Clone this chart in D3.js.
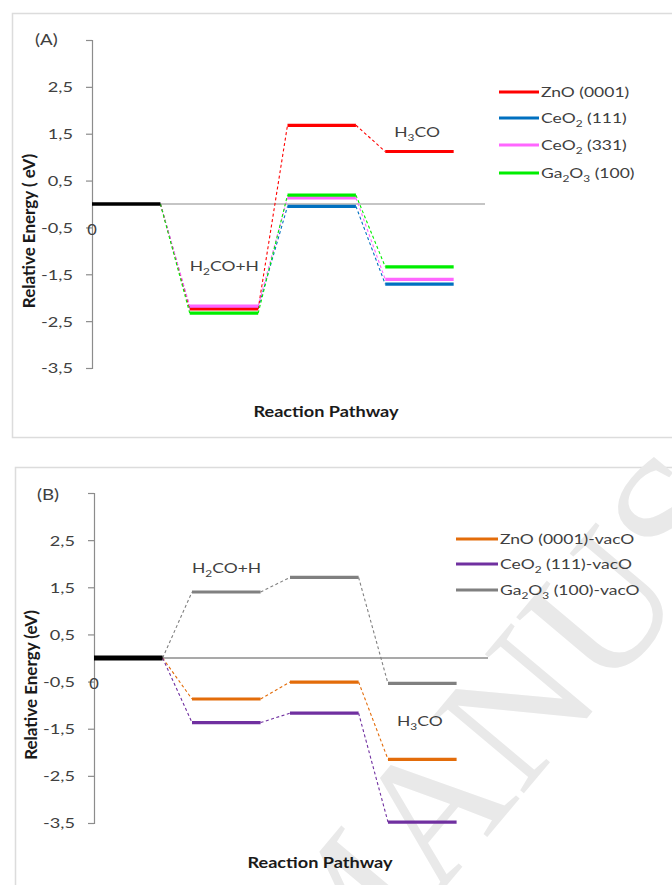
<!DOCTYPE html>
<html><head><meta charset="utf-8">
<script src="https://cdn.jsdelivr.net/npm/d3@7"></script>
<style>body{margin:0;background:#fff}svg{display:block}</style>
</head><body><svg id="c" width="672" height="885"></svg>
<script>
// ---------- data ----------
const steps = [0, 1, 2, 3];
const yTickValues = [3.5, 2.5, 1.5, 0.5, -0.5, -1.5, -2.5, -3.5];
const yTickLabels = ["", "2,5", "1,5", "0,5", "-0,5", "-1,5", "-2,5", "-3,5"];

// Panel A
const namesA = ["ZnO (0001)", "CeO_2 (111)", "CeO_2 (331)", "Ga_2O_3 (100)"];
const znoA    = [0, -2.24, 1.68, 1.12];
const ceo111A = [0, -2.22, -0.05, -1.71];
const ceo331A = [0, -2.18, 0.13, -1.61];
const ga2o3A  = [0, -2.33, 0.19, -1.34];

// Panel B
const namesB = ["ZnO (0001)-vacO", "CeO_2 (111)-vacO", "Ga_2O_3 (100)-vacO"];
const znoB  = [0, -0.87, -0.51, -2.15];
const ceoB  = [0, -1.37, -1.17, -3.48];
const ga2o3B = [0, 1.40, 1.71, -0.54];

const stepLabelsA = ["H_2CO+H", "H_3CO"];
const stepLabelsB = ["H_2CO+H", "H_3CO"];

// ---------- drawing ----------
const svg = d3.select("#c");
const FONT = "Lato, 'Open Sans', sans-serif";
const SX = 1.25;
const TXT = "#404040";

function rich(sel, str, fs) {
  const parts = str.split(/(_\d)/).filter(p => p.length);
  let sub = false;
  parts.forEach(p => {
    if (p[0] === "_") {
      sel.append("tspan").attr("font-size", fs * 0.68).attr("dy", fs * 0.3).text(p.slice(1));
      sub = true;
    } else {
      const t = sel.append("tspan").text(p);
      if (sub) t.attr("dy", -fs * 0.3);
      sub = false;
    }
  });
}
function label(g, x, y, str, o = {}) {
  const fs = o.fs || 14;
  const t = g.append("text")
    .attr("transform", `translate(${x},${y}) scale(${o.sx || SX},1)`)
    .attr("font-family", FONT).attr("font-size", fs)
    .attr("font-weight", o.bold ? "bold" : "normal")
    .attr("fill", o.fill || TXT)
    .attr("text-anchor", o.anchor || "start");
  rich(t, str, fs);
  return t;
}

// frames
svg.append("rect").attr("x", 12.5).attr("y", 13.5).attr("width", 720).attr("height", 424)
  .attr("fill", "none").attr("stroke", "#dcdcdc").attr("stroke-width", 1.5);
svg.append("rect").attr("x", 15.5).attr("y", 467.5).attr("width", 720).attr("height", 460)
  .attr("fill", "none").attr("stroke", "#dcdcdc").attr("stroke-width", 1.5);

// watermark
svg.append("text").attr("transform", "translate(332,1022) rotate(-50)")
  .attr("font-family", "'Liberation Serif', serif").attr("font-size", 182)
  .attr("fill", "#e9e9e9").text("MANUSCRIPT");

function panel(cfg) {
  const g = svg.append("g");
  const y = d3.scaleLinear().domain([-3.5, 3.5]).range(cfg.yRange);
  const x = d3.scaleBand().domain(steps).range(cfg.xRange)
    .paddingInner(0.3).paddingOuter(0.15).align(0);
  const bw = x.bandwidth();
  const ax = cfg.xRange[0];

  // zero line
  g.append("line").attr("x1", ax).attr("x2", cfg.xRange[1] + 2)
    .attr("y1", y(0)).attr("y2", y(0))
    .attr("stroke", cfg.zeroColor).attr("stroke-width", 1.2);

  // y axis
  const axis = d3.axisLeft(y).tickValues(yTickValues).tickSize(6)
    .tickFormat((d, i) => yTickLabels[i]);
  const ag = g.append("g").attr("transform", `translate(${ax},0)`).call(axis);
  ag.select(".domain").attr("stroke", "#8c8c8c").attr("stroke-width", 1.2);
  ag.selectAll(".tick line").attr("stroke", "#8c8c8c").attr("stroke-width", 1.2);
  ag.selectAll(".tick text")
    .attr("x", -19 / 1.3).attr("dy", "0.35em")
    .attr("transform", `scale(1.3,1)`)
    .attr("font-family", FONT).attr("font-size", 14).attr("fill", TXT);

  // connectors then bars
  cfg.series.forEach(s => {
    for (let i = 0; i < steps.length - 1; i++) {
      g.append("line")
        .attr("x1", x(steps[i]) + bw).attr("y1", y(s.values[i]))
        .attr("x2", x(steps[i + 1])).attr("y2", y(s.values[i + 1]))
        .attr("stroke", s.color).attr("stroke-width", 1.1)
        .attr("stroke-dasharray", "3,2.5");
    }
  });
  cfg.series.forEach(s => {
    steps.slice(1).forEach(st => {
      g.append("line")
        .attr("x1", x(st)).attr("x2", x(st) + bw)
        .attr("y1", y(s.values[st])).attr("y2", y(s.values[st]))
        .attr("stroke", s.color).attr("stroke-width", 3.2);
    });
  });
  // initial state
  g.append("line").attr("x1", x(0)).attr("x2", x(0) + bw)
    .attr("y1", y(0)).attr("y2", y(0))
    .attr("stroke", "#000").attr("stroke-width", cfg.startWidth);

  // "0" category label
  label(g, ax, y(0) + 31, "0", { fs: 15, anchor: "middle", sx: 1.1 });

  // step labels
  label(g, x(1), cfg.lab1Y, cfg.stepLabels[0], { fs: 14 });
  label(g, x(3) + 9, cfg.lab3Y, cfg.stepLabels[1], { fs: 14 });

  // panel letter
  label(g, cfg.letterX, cfg.letterY, cfg.letter, { fs: 15 });

  // axis titles
  g.append("text")
    .attr("transform", `translate(${cfg.yTitleX},${cfg.yTitleY}) rotate(-90)`)
    .attr("text-anchor", "middle").attr("font-family", FONT)
    .attr("font-size", 17).attr("font-weight", "bold").attr("fill", "#1a1a1a")
    .text(cfg.yTitle);
  label(g, cfg.xTitleX, cfg.xTitleY, "Reaction Pathway",
    { fs: 14.5, bold: true, anchor: "middle", fill: "#1a1a1a" });

  // legend
  cfg.legend.forEach((s, i) => {
    const ly = cfg.legY[i];
    g.append("line").attr("x1", cfg.legX[0]).attr("x2", cfg.legX[1])
      .attr("y1", ly).attr("y2", ly).attr("stroke", s.color).attr("stroke-width", 3.2);
    label(g, cfg.legX[1] + 2, ly + 5, s.name, { fs: 14 });
  });
}

const colA = { zno: "#ff0000", ceo111: "#0070c0", ceo331: "#ff66ff", ga: "#00ee00" };
const sA = {
  zno:    { name: namesA[0], color: colA.zno, values: znoA },
  ceo111: { name: namesA[1], color: colA.ceo111, values: ceo111A },
  ceo331: { name: namesA[2], color: colA.ceo331, values: ceo331A },
  ga:     { name: namesA[3], color: colA.ga, values: ga2o3A }
};
panel({
  yRange: [368, 40], xRange: [92, 483], zeroColor: "#8c8c8c", startWidth: 3.5,
  series: [sA.ceo111, sA.zno, sA.ceo331, sA.ga],
  legend: [sA.zno, sA.ceo111, sA.ceo331, sA.ga],
  legX: [499, 539], legY: [92, 118, 145, 173],
  stepLabels: stepLabelsA, lab1Y: 271, lab3Y: 137,
  letter: "(A)", letterX: 35, letterY: 45,
  yTitle: "Relative Energy ( eV)", yTitleX: 35, yTitleY: 231,
  xTitleX: 326, xTitleY: 417
});

const sB = {
  zno: { name: namesB[0], color: "#e36c0a", values: znoB },
  ceo: { name: namesB[1], color: "#7030a0", values: ceoB },
  ga:  { name: namesB[2], color: "#808080", values: ga2o3B }
};
panel({
  yRange: [823, 493], xRange: [94, 486], zeroColor: "#555555", startWidth: 5,
  series: [sB.ga, sB.zno, sB.ceo],
  legend: [sB.zno, sB.ceo, sB.ga],
  legX: [456, 498], legY: [539, 564, 590],
  stepLabels: stepLabelsB, lab1Y: 573, lab3Y: 726,
  letter: "(B)", letterX: 37, letterY: 500,
  yTitle: "Relative Energy (eV)", yTitleX: 37, yTitleY: 685,
  xTitleX: 320, xTitleY: 868
});
</script></body></html>
